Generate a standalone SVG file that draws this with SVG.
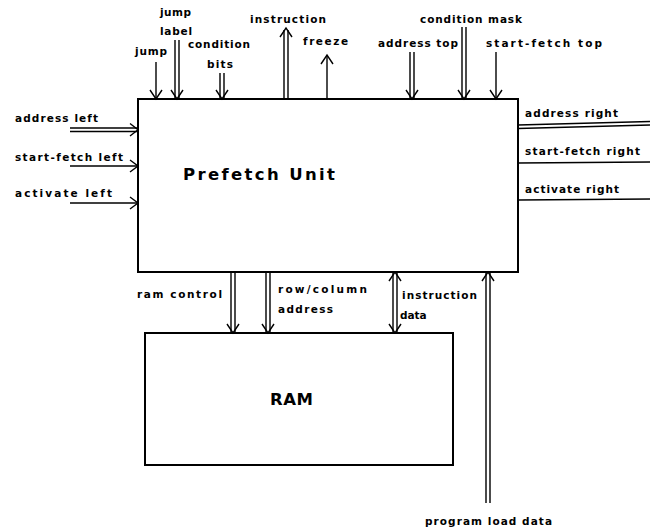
<svg xmlns="http://www.w3.org/2000/svg" width="650" height="530" viewBox="0 0 650 530">
<style>
.box{fill:none;stroke:#000;stroke-width:2}
.ln{fill:none;stroke:#000;stroke-width:1.4}
.hd{fill:none;stroke:#000;stroke-width:1.4;stroke-linejoin:miter}
.lb{font-family:"DejaVu Sans",sans-serif;font-size:10.5px;font-weight:bold;fill:#000}
.tt{font-family:"DejaVu Sans",sans-serif;font-size:16.5px;font-weight:bold;fill:#000}
</style>
<rect width="650" height="530" fill="#fff"/>
<g id="prefetch-unit">
<rect class="box" x="138" y="99" width="380" height="173"/>
<text class="tt" x="183" y="180" textLength="152" lengthAdjust="spacing">Prefetch Unit</text>
</g>
<g id="ram">
<rect class="box" x="145" y="333" width="308" height="132"/>
<text class="tt" x="270" y="405" textLength="43" lengthAdjust="spacing">RAM</text>
</g>
<g id="connectors">
<!-- top inputs -->
<path class="ln" d="M156 62V98"/><path class="hd" d="M150 90L156 99L162 90"/>
<path class="ln" d="M175 40V98M179 40V98"/><path class="hd" d="M171 90L177 99L183 90"/>
<path class="ln" d="M220 73V98M224 73V98"/><path class="hd" d="M216 90L222 99L228 90"/>
<path class="ln" d="M284 30V99M288 30V99"/><path class="hd" d="M280 37L286 28L292 37"/>
<path class="ln" d="M327 56V99"/><path class="hd" d="M321 64L327 55L333 64"/>
<path class="ln" d="M410 52V98M414 52V98"/><path class="hd" d="M406 90L412 99L418 90"/>
<path class="ln" d="M462 27V98M466 27V98"/><path class="hd" d="M458 90L464 99L470 90"/>
<path class="ln" d="M496 52V98"/><path class="hd" d="M490 90L496 99L502 90"/>
<!-- left inputs -->
<path class="ln" d="M70 128H137M70 131.5H137"/><path class="hd" d="M130 123.5L138 129.7L130 136"/>
<path class="ln" d="M70 166H137"/><path class="hd" d="M130 160L138 166L130 172"/>
<path class="ln" d="M70 203H137"/><path class="hd" d="M130 197L138 203L130 209"/>
<!-- right outputs -->
<path class="ln" d="M518 125L650 121.5M518 128.5L650 125"/>
<path class="ln" d="M518 163L650 162"/>
<path class="ln" d="M518 200L650 199"/>
<!-- prefetch to RAM -->
<path class="ln" d="M231 272V332M235 272V332"/><path class="hd" d="M227 324L233 333L239 324"/>
<path class="ln" d="M266 272V332M270 272V332"/><path class="hd" d="M262 324L268 333L274 324"/>
<path class="ln" d="M393 273V332M397 273V332"/><path class="hd" d="M389 324L395 333L401 324M389 281L395 272L401 281"/>
<!-- program load data -->
<path class="ln" d="M486 273V503M490 273V503"/><path class="hd" d="M482 281L488 272L494 281"/>
<!-- labels -->
<text class="lb" x="135" y="55" textLength="32" lengthAdjust="spacing">jump</text>
<text class="lb" x="160" y="16" textLength="31" lengthAdjust="spacing">jump</text>
<text class="lb" x="160" y="35" textLength="32" lengthAdjust="spacing">label</text>
<text class="lb" x="188" y="48" textLength="62" lengthAdjust="spacing">condition</text>
<text class="lb" x="207" y="68" textLength="26" lengthAdjust="spacing">bits</text>
<text class="lb" x="250" y="23" textLength="76" lengthAdjust="spacing">instruction</text>
<text class="lb" x="303" y="45" textLength="45" lengthAdjust="spacing">freeze</text>
<text class="lb" x="378" y="47" textLength="80" lengthAdjust="spacing">address top</text>
<text class="lb" x="420" y="23" textLength="102" lengthAdjust="spacing">condition mask</text>
<text class="lb" x="486" y="47" textLength="116" lengthAdjust="spacing">start-fetch top</text>
<text class="lb" x="15" y="122" textLength="83" lengthAdjust="spacing">address left</text>
<text class="lb" x="15" y="161" textLength="108" lengthAdjust="spacing">start-fetch left</text>
<text class="lb" x="15" y="197" textLength="97" lengthAdjust="spacing">activate left</text>
<text class="lb" x="525" y="117" textLength="93" lengthAdjust="spacing">address right</text>
<text class="lb" x="525" y="155" textLength="115" lengthAdjust="spacing">start-fetch right</text>
<text class="lb" x="525" y="193" textLength="94" lengthAdjust="spacing">activate right</text>
<text class="lb" x="137" y="298" textLength="85" lengthAdjust="spacing">ram control</text>
<text class="lb" x="278" y="293" textLength="89" lengthAdjust="spacing">row/column</text>
<text class="lb" x="278" y="313" textLength="55" lengthAdjust="spacing">address</text>
<text class="lb" x="402" y="299" textLength="75" lengthAdjust="spacing">instruction</text>
<text class="lb" x="400" y="319">data</text>
<text class="lb" x="425" y="525" textLength="127" lengthAdjust="spacing">program load data</text>
</g>
</svg>
